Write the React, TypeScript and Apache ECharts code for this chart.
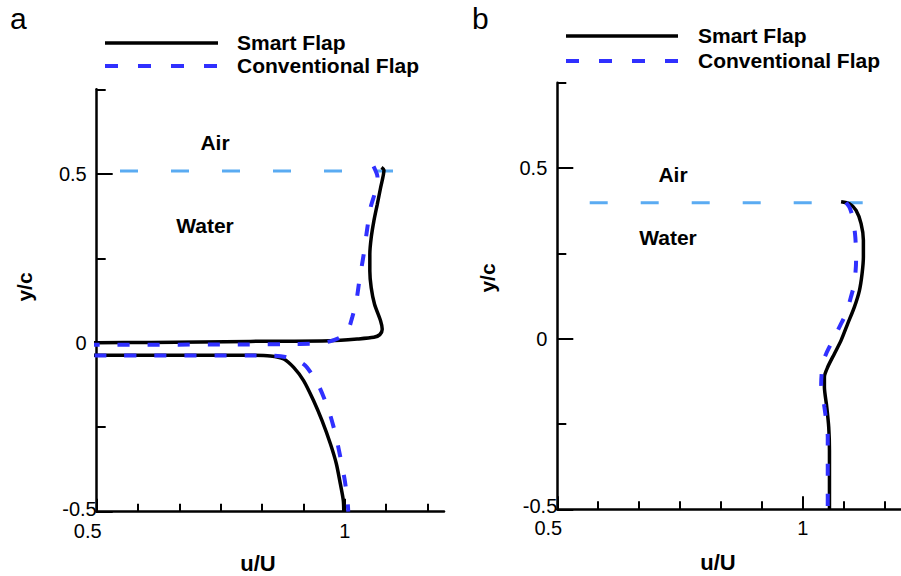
import { useEffect, useRef } from "react";
import * as echarts from "echarts";

// ---------- data (u/U, y/c) ----------
const xMajorTicks = [0.5, 1];
const xMinorTicks = [0.5833, 0.6667, 0.75, 0.8333, 0.9167, 1.0833, 1.1667];
const yMajorTicks = [-0.5, 0, 0.5];
const yMinorTicks = [-0.25, 0.25, 0.75];

const seriesNames = ["Smart Flap", "Conventional Flap"];

const leftSmartFlap = [
  [1.074, 0.519], [1.079, 0.511], [1.0721, 0.458], [1.0654, 0.409], [1.0586, 0.36],
  [1.0533, 0.311], [1.0505, 0.262], [1.0505, 0.212], [1.0533, 0.163], [1.06, 0.114],
  [1.0721, 0.065], [1.0755, 0.04], [1.0707, 0.024], [1.0586, 0.016], [1.025, 0.011],
  [0.971, 0.006], [0.81, 0.004], [0.61, 0.001], [0.5, 0.0], [0.3, 0.0],
  [0.3, -0.037], [0.5, -0.037], [0.709, -0.037], [0.81, -0.037], [0.85, -0.039],
  [0.877, -0.048], [0.897, -0.073], [0.917, -0.112], [0.937, -0.171], [0.954, -0.23],
  [0.971, -0.299], [0.983, -0.358], [0.991, -0.417], [0.997, -0.466], [0.998, -0.5],
];

const leftConventionalFlap = [
  [1.058, 0.522], [1.066, 0.49], [1.062, 0.45], [1.052, 0.4], [1.045, 0.335],
  [1.038, 0.26], [1.03, 0.19], [1.023, 0.12], [1.015, 0.075], [1.006, 0.035],
  [0.991, 0.016], [0.97, 0.004], [0.944, -0.002], [0.876, -0.004], [0.81, -0.005],
  [0.5, -0.006], [0.3, -0.006], [0.3, -0.038], [0.5, -0.038], [0.85, -0.038],
  [0.88, -0.042], [0.911, -0.058], [0.924, -0.073], [0.9475, -0.127], [0.9677, -0.2006],
  [0.981, -0.269], [0.991, -0.338], [1.0, -0.407], [1.006, -0.476], [1.007, -0.5],
];

const rightSmartFlap = [
  [1.078, 0.401], [1.095, 0.395], [1.1085, 0.3756], [1.1187, 0.337], [1.1234, 0.288],
  [1.1234, 0.239], [1.1207, 0.19], [1.1153, 0.141], [1.105, 0.0925], [1.0915, 0.044],
  [1.078, -0.005], [1.0644, -0.044], [1.0508, -0.083], [1.044, -0.112], [1.044, -0.142],
  [1.0488, -0.2], [1.0528, -0.259], [1.0543, -0.327], [1.0543, -0.395], [1.0543, -0.5],
];

const rightConventionalFlap = [
  [1.088, 0.399], [1.095, 0.385], [1.1016, 0.356], [1.107, 0.297], [1.1085, 0.229],
  [1.105, 0.161], [1.098, 0.122], [1.088, 0.073], [1.078, 0.044], [1.0644, 0.005],
  [1.061, -0.005], [1.0476, -0.044], [1.0407, -0.073], [1.0374, -0.132], [1.044, -0.2],
  [1.0508, -0.288], [1.0508, -0.366], [1.0508, -0.5],
];

const leftInterface = [[0.547, 0.508], [1.108, 0.508]];
const rightInterface = [[0.566, 0.398], [1.127, 0.398]];

// ---------- styles ----------
const FONT = '"Liberation Sans", Arial, Helvetica, sans-serif';
const BLACK = "#000000";
const BLUE = "#3030ff";
const LIGHT_BLUE = "#5aabf2";

function makeXAxes(gridIndex: number) {
  return [
    {
      type: "value", gridIndex, min: 0.5, max: 1.2, position: "bottom",
      axisLine: { show: true, onZero: false, lineStyle: { color: BLACK, width: 2.5 } },
      axisTick: { show: true, inside: true, length: 13, customValues: xMajorTicks, lineStyle: { color: BLACK, width: 2 } },
      axisLabel: {
        show: true, customValues: xMajorTicks, margin: 11,
        formatter: (v: number) => (Math.abs(v - 0.5) < 1e-9 ? "{p|" + v + "}" : "{n|" + v + "}"),
        rich: {
          p: { fontFamily: FONT, fontSize: 20, lineHeight: 16, color: BLACK, padding: [0, 18, 0, 0] },
          n: { fontFamily: FONT, fontSize: 20, lineHeight: 16, color: BLACK },
        },
      },
      splitLine: { show: false },
    },
    {
      type: "value", gridIndex, min: 0.5, max: 1.2, position: "bottom",
      axisLine: { show: false, onZero: false },
      axisTick: { show: true, inside: true, length: 8, customValues: xMinorTicks, lineStyle: { color: BLACK, width: 2 } },
      axisLabel: { show: false },
      splitLine: { show: false },
    },
  ];
}

function makeYAxes(gridIndex: number) {
  return [
    {
      type: "value", gridIndex, min: -0.5, max: 0.75, position: "left",
      axisLine: { show: true, onZero: false, lineStyle: { color: BLACK, width: 2.5 } },
      axisTick: { show: true, inside: true, length: 16, customValues: yMajorTicks, lineStyle: { color: BLACK, width: 2 } },
      axisLabel: {
        show: true, customValues: yMajorTicks, margin: 0,
        formatter: (v: number) => (v < -0.4 ? "{e|" + v + "}" : "{n|" + v + "}"),
        rich: {
          e: { fontFamily: FONT, fontSize: 20, lineHeight: 16, color: BLACK, padding: [0, 0, 6, 0] },
          n: { fontFamily: FONT, fontSize: 20, lineHeight: 16, color: BLACK, padding: [0, 10, 0, 0] },
        },
      },
      splitLine: { show: false },
    },
    {
      type: "value", gridIndex, min: -0.5, max: 0.75, position: "left",
      axisLine: { show: false, onZero: false },
      axisTick: { show: true, inside: true, length: 9, customValues: yMinorTicks, lineStyle: { color: BLACK, width: 2 } },
      axisLabel: { show: false },
      splitLine: { show: false },
    },
  ];
}

function lineSeries(name: string, data: number[][], axisIdx: number, dashed: boolean) {
  return {
    type: "line", name, data, xAxisIndex: axisIdx, yAxisIndex: axisIdx,
    showSymbol: false, symbol: "none", smooth: 0.25, clip: true, z: dashed ? 4 : 3,
    lineStyle: dashed ? { color: BLUE, width: 4, type: [12, 18] } : { color: BLACK, width: 3.5 },
  };
}

function interfaceSeries(data: number[][], axisIdx: number) {
  return {
    type: "line", name: "Interface", data, xAxisIndex: axisIdx, yAxisIndex: axisIdx,
    showSymbol: false, symbol: "none", z: 2,
    lineStyle: { color: LIGHT_BLUE, width: 3, type: [18, 33] },
  };
}

function txt(text: string, x: number, y: number, size: number, bold: boolean, align = "left", rotation = 0) {
  return {
    type: "text", x, y, rotation,
    style: {
      text, fill: BLACK, font: `${bold ? "bold " : ""}${size}px ${FONT}`,
      textAlign: align, textVerticalAlign: "middle",
    },
  };
}

function legendGraphics(x0: number, x1: number, ySmart: number, yConv: number, tx: number) {
  return [
    { type: "line", shape: { x1: x0, y1: ySmart, x2: x1, y2: ySmart }, style: { stroke: BLACK, lineWidth: 3.5 } },
    { type: "line", shape: { x1: x0, y1: yConv, x2: x1, y2: yConv }, style: { stroke: BLUE, lineWidth: 4, lineDash: [13, 20] } },
    txt(seriesNames[0], tx, ySmart - 1, 21, true),
    txt(seriesNames[1], tx, yConv - 1, 21, true),
  ];
}

export default function App() {
  const ref = useRef<HTMLDivElement>(null);
  useEffect(() => {
    if (!ref.current) return;
    const chart = echarts.init(ref.current, null, { renderer: "svg" });
    chart.setOption({
      animation: false,
      backgroundColor: "#ffffff",
      textStyle: { fontFamily: FONT },
      grid: [
        { left: 96.7, top: 89.3, width: 347.3, height: 422.4 },
        { left: 557.3, top: 82.7, width: 344.4, height: 426.6 },
      ],
      xAxis: [...makeXAxes(0), ...makeXAxes(1)],
      yAxis: [...makeYAxes(0), ...makeYAxes(1)],
      series: [
        interfaceSeries(leftInterface, 0),
        lineSeries(seriesNames[0], leftSmartFlap, 0, false),
        lineSeries(seriesNames[1], leftConventionalFlap, 0, true),
        interfaceSeries(rightInterface, 2),
        lineSeries(seriesNames[0], rightSmartFlap, 2, false),
        lineSeries(seriesNames[1], rightConventionalFlap, 2, true),
      ],
      graphic: [
        txt("a", 10, 18.5, 30, false),
        txt("b", 472, 18.5, 30, false),
        ...legendGraphics(105, 218, 43, 66, 237),
        ...legendGraphics(566, 678, 36, 61, 698),
        txt("Air", 215, 142.5, 21, true, "center"),
        txt("Water", 205, 225, 21, true, "center"),
        txt("Air", 673, 174, 21, true, "center"),
        txt("Water", 668, 237, 21, true, "center"),
        txt("y/c", 24, 287, 21, true, "center", Math.PI / 2),
        txt("y/c", 487, 278, 21, true, "center", Math.PI / 2),
        txt("u/U", 258, 563, 22, true, "center"),
        txt("u/U", 718, 562, 22, true, "center"),
      ],
    });
    return () => chart.dispose();
  }, []);
  return (
    <div
      ref={ref}
      style={{ position: "fixed", left: 0, top: 0, width: 901, height: 576, background: "#fff" }}
    />
  );
}
